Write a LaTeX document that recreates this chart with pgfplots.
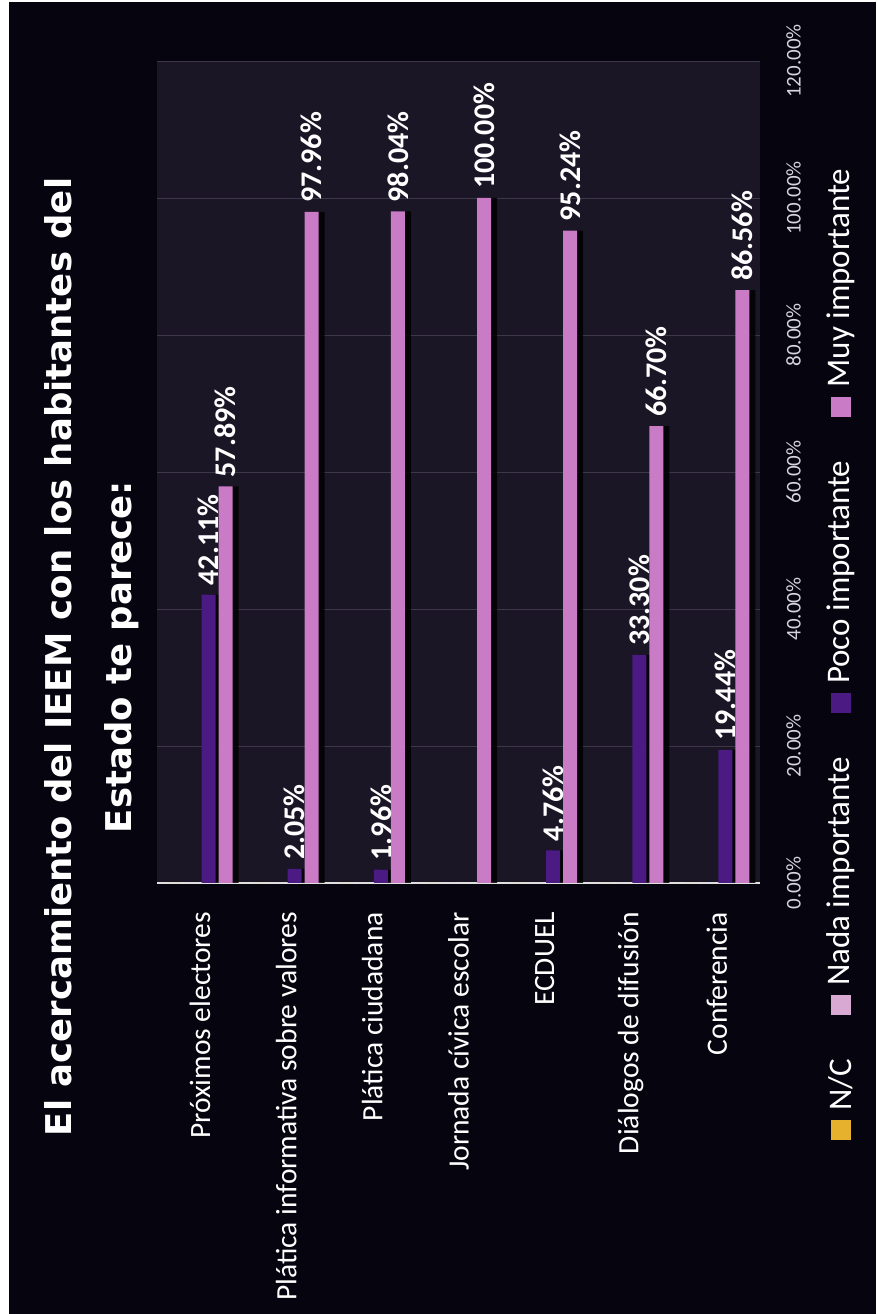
\documentclass[border=0pt]{standalone}
\usepackage{fontspec}
\setmainfont{Carlito}
\newfontfamily\titlefont{DejaVu Sans}
\usepackage{pgfplots}
\pgfplotsset{compat=1.18}
\usetikzlibrary{shadows,calc}
\definecolor{bgc}{HTML}{05040F}
\definecolor{plotbg}{HTML}{1B1626}
\definecolor{gridc}{HTML}{3E3749}
\definecolor{tickc}{HTML}{D6D4DC}
\definecolor{cNC}{HTML}{E6B22E}
\definecolor{cNada}{HTML}{D7A9D3}
\definecolor{cPoco}{HTML}{4B1A82}
\definecolor{cMuy}{HTML}{C97BC6}
\begin{document}
\begin{tikzpicture}
\useasboundingbox (0pt,0pt) rectangle (876pt,1314pt);
\fill[white] (0pt,0pt) rectangle (876pt,1314pt);
\fill[bgc] (9pt,0pt) rectangle (876pt,1312pt);
\node[rotate=90, align=center, text=white, inner sep=0pt,
      font=\titlefont\bfseries\fontsize{35.5pt}{60pt}\selectfont]
  at (92pt,657pt) {El acercamiento del IEEM con los habitantes del\\Estado te parece:};
\begin{axis}[
  at={(157pt,431pt)}, anchor=south west,
  scale only axis, width=603pt, height=822pt,
  xmin=-0.5, xmax=6.5, ymin=0, ymax=120,
  ybar, bar width=14pt,
  axis x line*=bottom, axis y line*=right,
  x axis line style={draw=white!88!black, line width=1.4pt, -},
  y axis line style={draw=none},
  axis background/.style={fill=plotbg},
  ymajorgrids, major grid style={draw=gridc, line width=0.8pt},
  major tick length=0pt,
  xtick={0,...,6},
  xticklabels={Próximos electores, Plática informativa sobre valores, Plática ciudadana, Jornada cívica escolar, ECDUEL, Diálogos de difusión, Conferencia},
  xticklabel style={rotate=90, anchor=east, inner sep=0pt, text=white, font=\fontsize{29.5pt}{34pt}\selectfont},
  xticklabel shift=29pt,
  ytick={0,20,...,120},
  yticklabel={\pgfmathprintnumber[fixed,fixed zerofill,precision=2]{\tick}\%},
  yticklabel style={rotate=90, anchor=north, inner sep=0pt, text=tickc, font=\fontsize{21pt}{25pt}\selectfont},
  yticklabel shift=26pt,
  /pgf/number format/assume math mode=true,
]
% N/C
\addplot[fill=cNC, draw=none, bar shift=-25.5pt] coordinates {(0,0) (1,0) (2,0) (3,0) (4,0) (5,0) (6,0)};
% Nada importante
\addplot[fill=cNada, draw=none, bar shift=-8.5pt] coordinates {(0,0) (1,0) (2,0) (3,0) (4,0) (5,0) (6,0)};
% Poco importante
\addplot[fill=cPoco, draw=none, bar shift=8.5pt,
  drop shadow={shadow xshift=6pt, shadow yshift=0pt, fill=black, opacity=0.85},
  nodes near coords={\pgfmathprintnumber[fixed,fixed zerofill,precision=2]{\pgfplotspointmeta}\%},
  every node near coord/.append style={rotate=90, anchor=west, text=white, inner xsep=9pt, inner ysep=0pt, font=\bfseries\fontsize{30pt}{34pt}\selectfont}]
  coordinates {(0,42.11) (1,2.05) (2,1.96) (4,4.76) (5,33.30) (6,19.44)};
% Muy importante
\addplot[fill=cMuy, draw=none, bar shift=25.5pt,
  drop shadow={shadow xshift=6pt, shadow yshift=0pt, fill=black, opacity=0.85},
  nodes near coords={\pgfmathprintnumber[fixed,fixed zerofill,precision=2]{\pgfplotspointmeta}\%},
  every node near coord/.append style={rotate=90, anchor=west, text=white, inner xsep=9pt, inner ysep=0pt, font=\bfseries\fontsize{30pt}{34pt}\selectfont}]
  coordinates {(0,57.89) (1,97.96) (2,98.04) (3,100.00) (4,95.24) (5,66.70) (6,86.56)};
\end{axis}
% legend (rotated, reading bottom to top)
\tikzset{legtext/.style={rotate=90, anchor=west, inner sep=0pt, text=white, font=\fontsize{33pt}{36pt}\selectfont}}
\fill[cNC] (831pt,174pt) rectangle (851pt,194pt);
\node[legtext] (l1) at (841pt,203pt) {N/C};
\fill[cNada] ($(l1.east)+(-10pt,44pt)$) rectangle ++(20pt,20pt);
\node[legtext] (l2) at ($(l1.east)+(0pt,73pt)$) {Nada importante};
\fill[cPoco] ($(l2.east)+(-10pt,44pt)$) rectangle ++(20pt,20pt);
\node[legtext] (l3) at ($(l2.east)+(0pt,73pt)$) {Poco importante};
\fill[cMuy] ($(l3.east)+(-10pt,44pt)$) rectangle ++(20pt,20pt);
\node[legtext] (l4) at ($(l3.east)+(0pt,73pt)$) {Muy importante};
\end{tikzpicture}
\end{document}
